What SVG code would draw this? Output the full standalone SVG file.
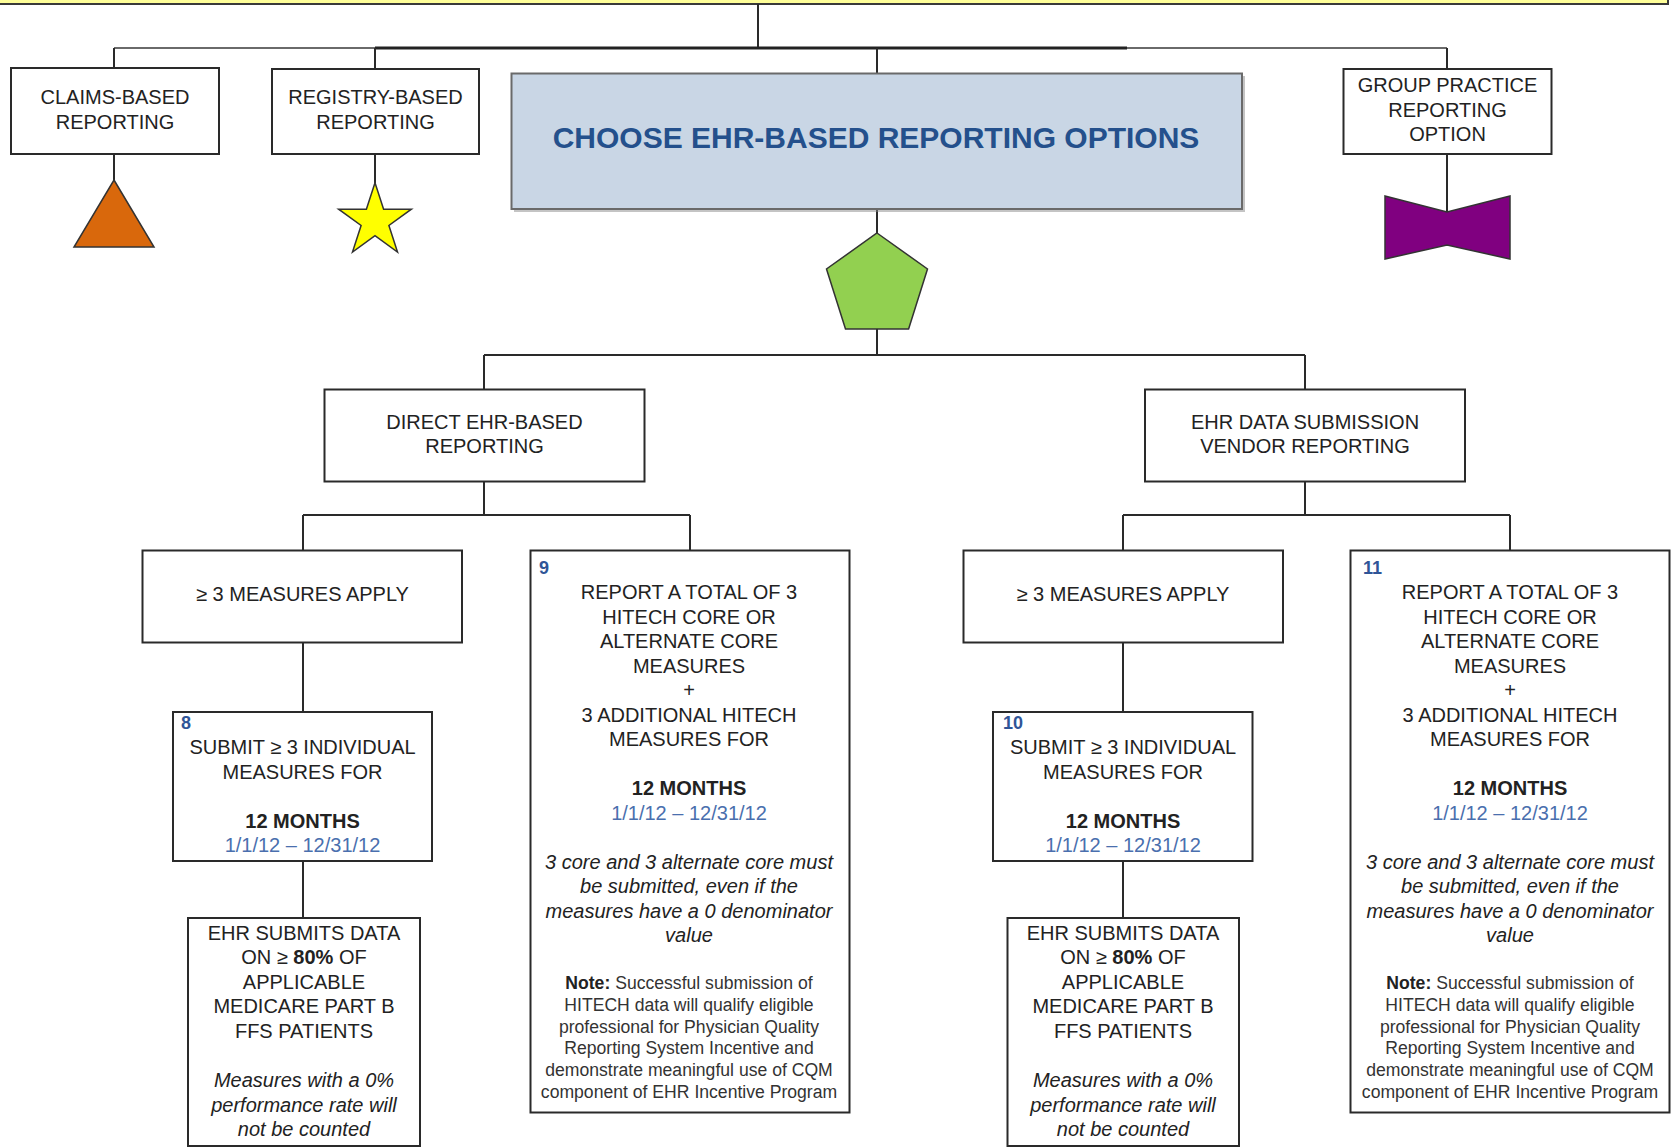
<svg xmlns="http://www.w3.org/2000/svg" width="1673" height="1147" viewBox="0 0 1673 1147">
<defs>
<style>
.box{fill:#ffffff;stroke:#2a2a2a;stroke-width:2}
.t{font-family:"Liberation Sans",Arial,sans-serif;font-size:20px;fill:#222;text-anchor:middle}
.b{font-weight:bold}
.i{font-style:italic}
.d{fill:#4a6fae}
.n{font-family:"Liberation Sans",Arial,sans-serif;font-size:18px;font-weight:bold;fill:#2f5597}
.s{font-family:"Liberation Sans",Arial,sans-serif;font-size:17.6px;fill:#333;text-anchor:middle}
.c{fill:none;stroke:#2a2a2a;stroke-width:2}
</style>
</defs>
<rect x="-4" y="-12" width="1672" height="16" fill="#ffff99" stroke="#3a3a3a" stroke-width="2"/>
<g id="connectors">
<path class="c" d="M758 4 V48"/>
<path d="M114 48 H1447" fill="none" stroke="#6a6a6a" stroke-width="2"/>
<path d="M375 48 H1127" fill="none" stroke="#222" stroke-width="3"/>
<path class="c" d="M114 48 V68 M375 48 V69 M877 48 V73 M1447 48 V69"/>
<path class="c" d="M114 154 V180 M375 154 V183 M1447 154 V212 M877 209 V233"/>
<path class="c" d="M877 329 V355 M484 355 H1305 M484 355 V389 M1305 355 V389"/>
<path class="c" d="M484 481 V515 M303 515 H690 M303 515 V550 M690 515 V550"/>
<path class="c" d="M1305 481 V515 M1123 515 H1510 M1123 515 V550 M1510 515 V550"/>
<path class="c" d="M303 642 V712 M303 861 V918 M1123 642 V712 M1123 861 V918"/>
</g>
<g id="claims">
<rect class="box" x="11" y="68" width="208" height="86"/>
<text class="t" x="115" y="104">CLAIMS-BASED</text>
<text class="t" x="115" y="128.5">REPORTING</text>
<polygon points="114,180 154,247 74,247" fill="#d9680c" stroke="#333" stroke-width="1.5"/>
</g>
<g id="registry">
<rect class="box" x="272" y="69" width="207" height="85"/>
<text class="t" x="375.5" y="104">REGISTRY-BASED</text>
<text class="t" x="375.5" y="128.5">REPORTING</text>
<polygon points="375,182.7 383.6,209.2 411.4,209.2 388.9,225.5 397.5,252 375,235.6 352.5,252 361.1,225.5 338.6,209.2 366.4,209.2" fill="#ffff00" stroke="#333" stroke-width="1.5"/>
</g>
<g id="choose">
<rect x="514" y="76" width="731" height="136" fill="#8a8a8a" opacity="0.5"/>
<rect x="511.5" y="73.5" width="730.5" height="135.5" fill="#c9d6e5" stroke="#6a6a6a" stroke-width="2"/>
<text class="t b" x="876" y="148" style="font-size:30px;fill:#24508c">CHOOSE EHR-BASED REPORTING OPTIONS</text>
<polygon points="877,233 927.5,269 908.6,329 845.5,329 826.5,269" fill="#92d050" stroke="#333" stroke-width="1.5"/>
</g>
<g id="group">
<rect class="box" x="1343.5" y="69" width="208" height="85"/>
<text class="t" x="1447.5" y="92">GROUP PRACTICE</text>
<text class="t" x="1447.5" y="116.5">REPORTING</text>
<text class="t" x="1447.5" y="141">OPTION</text>
<polygon points="1385,196 1447,212 1510,196 1510,259 1447,245 1385,259" fill="#800080" stroke="#333" stroke-width="1.5"/>
</g>
<g id="direct">
<rect class="box" x="324.5" y="389.5" width="320" height="92"/>
<text class="t" x="484.5" y="428.5">DIRECT EHR-BASED</text>
<text class="t" x="484.5" y="453">REPORTING</text>
</g>
<g id="vendor">
<rect class="box" x="1145" y="389.5" width="320" height="92"/>
<text class="t" x="1305" y="428.5">EHR DATA SUBMISSION</text>
<text class="t" x="1305" y="453">VENDOR REPORTING</text>
</g>
<g id="apply-left">
<rect class="box" x="142.5" y="550.5" width="319.5" height="92"/>
<text class="t" x="302.5" y="600.5">≥ 3 MEASURES APPLY</text>
</g>
<g id="apply-right">
<rect class="box" x="963.5" y="550.5" width="319.5" height="92"/>
<text class="t" x="1123" y="600.5">≥ 3 MEASURES APPLY</text>
</g>
<g id="box8">
<rect class="box" x="173" y="712" width="259" height="149"/>
<text class="n" x="181" y="729">8</text>
<text class="t" x="302.5" y="754.3">SUBMIT ≥ 3 INDIVIDUAL</text>
<text class="t" x="302.5" y="778.7">MEASURES FOR</text>
<text class="t b" x="302.5" y="827.5">12 MONTHS</text>
<text class="t d" x="302.5" y="852">1/1/12 – 12/31/12</text>
</g>
<g id="box10">
<rect class="box" x="993" y="712" width="259.5" height="149"/>
<text class="n" x="1003" y="729">10</text>
<text class="t" x="1123" y="754.3">SUBMIT ≥ 3 INDIVIDUAL</text>
<text class="t" x="1123" y="778.7">MEASURES FOR</text>
<text class="t b" x="1123" y="827.5">12 MONTHS</text>
<text class="t d" x="1123" y="852">1/1/12 – 12/31/12</text>
</g>
<g id="ehr-left">
<rect class="box" x="188" y="918" width="232" height="228"/>
<text class="t" x="304" y="939.5">EHR SUBMITS DATA</text>
<text class="t" x="304" y="964">ON ≥ <tspan class="b">80%</tspan> OF</text>
<text class="t" x="304" y="988.7">APPLICABLE</text>
<text class="t" x="304" y="1013">MEDICARE PART B</text>
<text class="t" x="304" y="1037.5">FFS PATIENTS</text>
<text class="t i" x="304" y="1087">Measures with a 0%</text>
<text class="t i" x="304" y="1111.5">performance rate will</text>
<text class="t i" x="304" y="1136">not be counted</text>
</g>
<g id="ehr-right">
<rect class="box" x="1007.5" y="918" width="231.5" height="228"/>
<text class="t" x="1123" y="939.5">EHR SUBMITS DATA</text>
<text class="t" x="1123" y="964">ON ≥ <tspan class="b">80%</tspan> OF</text>
<text class="t" x="1123" y="988.7">APPLICABLE</text>
<text class="t" x="1123" y="1013">MEDICARE PART B</text>
<text class="t" x="1123" y="1037.5">FFS PATIENTS</text>
<text class="t i" x="1123" y="1087">Measures with a 0%</text>
<text class="t i" x="1123" y="1111.5">performance rate will</text>
<text class="t i" x="1123" y="1136">not be counted</text>
</g>
<g id="box9">
<rect class="box" x="530.5" y="550.5" width="319" height="562"/>
<text class="n" x="539" y="574">9</text>
<text class="t" x="689" y="599.2">REPORT A TOTAL OF 3</text>
<text class="t" x="689" y="623.7">HITECH CORE OR</text>
<text class="t" x="689" y="648.2">ALTERNATE CORE</text>
<text class="t" x="689" y="672.7">MEASURES</text>
<text class="t" x="689" y="697.2">+</text>
<text class="t" x="689" y="721.7">3 ADDITIONAL HITECH</text>
<text class="t" x="689" y="746.2">MEASURES FOR</text>
<text class="t b" x="689" y="795.2">12 MONTHS</text>
<text class="t d" x="689" y="819.7">1/1/12 – 12/31/12</text>
<text class="t i" x="689" y="868.7">3 core and 3 alternate core must</text>
<text class="t i" x="689" y="893.2">be submitted, even if the</text>
<text class="t i" x="689" y="917.7">measures have a 0 denominator</text>
<text class="t i" x="689" y="942.2">value</text>
<text class="s" x="689" y="988.7"><tspan font-weight="bold" fill="#222">Note:</tspan> Successful submission of</text>
<text class="s" x="689" y="1010.6">HITECH data will qualify eligible</text>
<text class="s" x="689" y="1032.5">professional for Physician Quality</text>
<text class="s" x="689" y="1054.4">Reporting System Incentive and</text>
<text class="s" x="689" y="1076.3">demonstrate meaningful use of CQM</text>
<text class="s" x="689" y="1098.2">component of EHR Incentive Program</text>
</g>
<g id="box11">
<rect class="box" x="1350.5" y="550.5" width="319" height="562"/>
<text class="n" x="1363" y="574">11</text>
<text class="t" x="1510" y="599.2">REPORT A TOTAL OF 3</text>
<text class="t" x="1510" y="623.7">HITECH CORE OR</text>
<text class="t" x="1510" y="648.2">ALTERNATE CORE</text>
<text class="t" x="1510" y="672.7">MEASURES</text>
<text class="t" x="1510" y="697.2">+</text>
<text class="t" x="1510" y="721.7">3 ADDITIONAL HITECH</text>
<text class="t" x="1510" y="746.2">MEASURES FOR</text>
<text class="t b" x="1510" y="795.2">12 MONTHS</text>
<text class="t d" x="1510" y="819.7">1/1/12 – 12/31/12</text>
<text class="t i" x="1510" y="868.7">3 core and 3 alternate core must</text>
<text class="t i" x="1510" y="893.2">be submitted, even if the</text>
<text class="t i" x="1510" y="917.7">measures have a 0 denominator</text>
<text class="t i" x="1510" y="942.2">value</text>
<text class="s" x="1510" y="988.7"><tspan font-weight="bold" fill="#222">Note:</tspan> Successful submission of</text>
<text class="s" x="1510" y="1010.6">HITECH data will qualify eligible</text>
<text class="s" x="1510" y="1032.5">professional for Physician Quality</text>
<text class="s" x="1510" y="1054.4">Reporting System Incentive and</text>
<text class="s" x="1510" y="1076.3">demonstrate meaningful use of CQM</text>
<text class="s" x="1510" y="1098.2">component of EHR Incentive Program</text>
</g>
</svg>
